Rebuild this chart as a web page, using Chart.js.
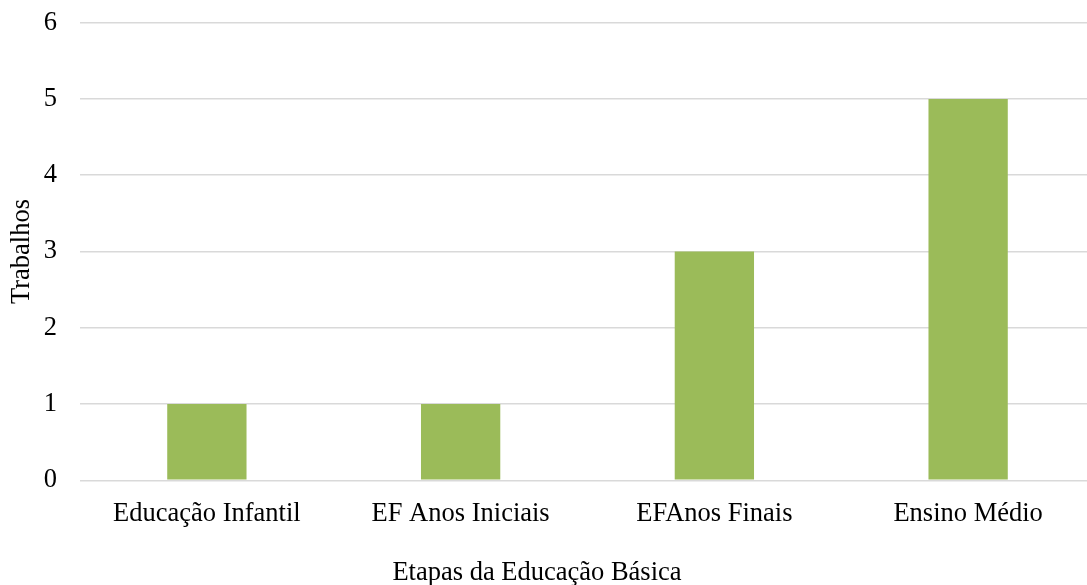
<!DOCTYPE html>
<html>
<head>
    <title>Trabalhos por etapa</title>
    <script src="https://cdn.jsdelivr.net/npm/chart.js"></script>
    <style>
        body {
            margin: 0;
            overflow: hidden;
            background: #fff;
        }
        #wrap {
            position: relative;
            width: 1095px; /* plot runs past the right edge like the original crop */
            height: 585px;
        }
        #xtitle {
            position: absolute;
            left: 537px;
            top: 558px;
            transform: translateX(-50%);
            font-family: "Liberation Serif", "Times New Roman", serif;
            font-size: 26.5px;
            line-height: 26.5px;
            color: #000;
            white-space: nowrap;
        }
    </style>
</head>
<body>
    <div id="wrap">
        <canvas id="chart"></canvas>
        <div id="xtitle">Etapas da Educação Básica</div>
    </div>
    <script>
        // data
        var etapas = ['Educação Infantil', 'EF Anos Iniciais', 'EFAnos Finais', 'Ensino Médio'];
        var trabalhos = [1, 1, 3, 5];
        var yTicks = [0, 1, 2, 3, 4, 5, 6];

        var serif = 'Liberation Serif, Times New Roman, serif';

        var ctx = document.getElementById('chart').getContext('2d');
        var chart = new Chart(ctx, {
            type: 'bar',
            data: {
                labels: etapas,
                datasets: [{
                    label: 'Trabalhos',
                    data: trabalhos,
                    backgroundColor: '#9BBB59',
                    borderWidth: 0,
                    barPercentage: 1,
                    categoryPercentage: 0.3125
                }]
            },
            options: {
                responsive: true,
                maintainAspectRatio: false,
                animation: false,
                layout: {
                    padding: { top: 22.7, right: 0, bottom: 0, left: 0 }
                },
                plugins: {
                    legend: { display: false },
                    tooltip: { enabled: false }
                },
                scales: {
                    x: {
                        grid: { display: false },
                        border: { display: false },
                        ticks: {
                            color: '#000',
                            padding: 10,
                            maxRotation: 0,
                            font: { family: serif, size: 26.5 }
                        },
                        afterFit: function(scale) {
                            scale.height = 104.7; // room for labels + html title below
                        }
                    },
                    y: {
                        min: 0,
                        max: 6,
                        afterBuildTicks: function(scale) {
                            scale.ticks = yTicks.map(function(v) { return { value: v }; });
                        },
                        grid: {
                            color: '#d9d9d9',
                            lineWidth: 1.5,
                            drawTicks: false
                        },
                        border: { display: false },
                        ticks: {
                            color: '#000',
                            padding: 23,
                            font: { family: serif, size: 26.5 }
                        },
                        title: {
                            display: true,
                            text: 'Trabalhos',
                            color: '#000',
                            padding: { top: 6, bottom: 0 },
                            font: { family: serif, size: 26.5 }
                        },
                        afterFit: function(scale) {
                            scale.width = 80;
                            // let the layout padding alone set the top of the plot
                            scale.paddingTop = 0;
                            scale.paddingBottom = 0;
                        }
                    }
                }
            }
        });
    </script>
</body>
</html>
